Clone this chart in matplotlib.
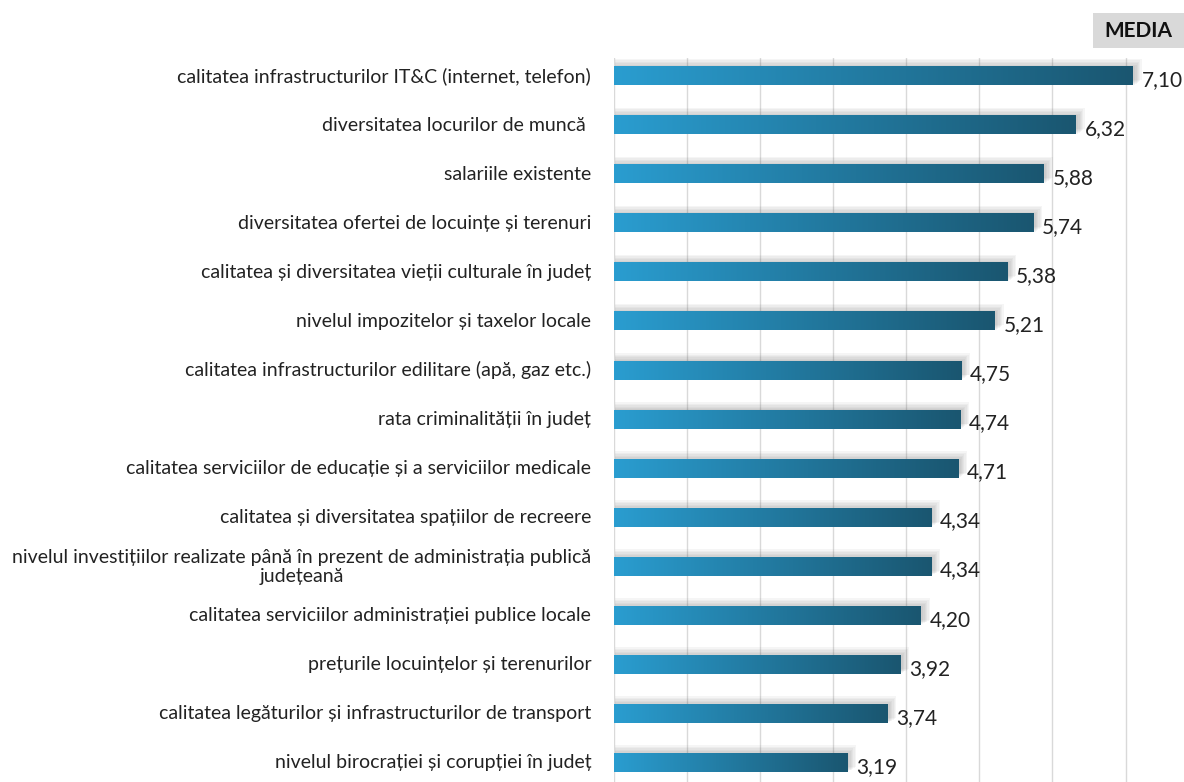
import numpy as np
import matplotlib.pyplot as plt
from matplotlib.colors import LinearSegmentedColormap
from matplotlib.patches import Rectangle

categories = [
    "calitatea infrastructurilor IT&C (internet, telefon)",
    "diversitatea locurilor de muncă ",
    "salariile existente",
    "diversitatea ofertei de locuințe și terenuri",
    "calitatea și diversitatea vieții culturale în județ",
    "nivelul impozitelor și taxelor locale",
    "calitatea infrastructurilor edilitare (apă, gaz etc.)",
    "rata criminalității în județ",
    "calitatea serviciilor de educație și a serviciilor medicale",
    "calitatea și diversitatea spațiilor de recreere",
    "nivelul investițiilor realizate până în prezent de administrația publică\njudețeană",
    "calitatea serviciilor administrației publice locale",
    "prețurile locuințelor și terenurilor",
    "calitatea legăturilor și infrastructurilor de transport",
    "nivelul birocrației și corupției în județ",
]
values = [7.10, 6.32, 5.88, 5.74, 5.38, 5.21, 4.75, 4.74, 4.71, 4.34, 4.34, 4.20, 3.92, 3.74, 3.19]
value_labels = [f"{v:.2f}".replace(".", ",") for v in values]

plt.rcParams['font.family'] = ['Lato', 'DejaVu Sans']

fig = plt.figure(figsize=(11.84, 7.82), dpi=100)
ax = fig.add_axes([614 / 1184, 0, 1 - 614 / 1184, 1 - 58 / 782])

bar_h = 0.37
cmap = LinearSegmentedColormap.from_list("bar", ["#2a9dd0", "#1a5670"])
grad = np.linspace(0, 1, 256).reshape(1, -1)

for i, v in enumerate(values):
    # soft shadow, mostly above and right of the bar
    for k in range(6):
        pad = 0.02 + k * 0.03
        ax.add_patch(Rectangle((0.02, i - bar_h / 2 - pad),
                               v + pad * 0.6, bar_h + pad * 0.4,
                               facecolor="#555555", alpha=0.055, lw=0, zorder=2))
    ax.imshow(grad, cmap=cmap, aspect="auto", zorder=3,
              extent=(0, v, i + bar_h / 2, i - bar_h / 2))
    ax.text(v + 0.12, i + 0.08, value_labels[i], va="center", ha="left",
            fontsize=15, color="#222222", zorder=4)

ax.set_xlim(0, 7.8)
ax.set_ylim(len(values) - 1 + 0.39, -0.37)
ax.set_xticks(range(0, 8))
ax.grid(axis="x", color="#d9d9d9", lw=1, zorder=0)
ax.set_axisbelow(True)
ax.tick_params(axis="x", length=0, labelbottom=False)
ax.set_yticks([])
for s in ax.spines.values():
    s.set_visible(False)

# category labels, right-aligned next to the axis, extra lines centred
label_tr = ax.get_yaxis_transform()
for i, cat in enumerate(categories):
    ax.text(-0.04, i, cat, transform=label_tr, ha="right", va="center",
            multialignment="center", fontsize=14, color="#222222",
            linespacing=1.15, clip_on=False)

fig.patches.append(Rectangle((1093 / 1184, 1 - 48 / 782), 91 / 1184, 35 / 782,
                             transform=fig.transFigure, facecolor="#d9d9d9",
                             edgecolor="none", zorder=1))
fig.text(1138 / 1184, 1 - 31 / 782, "MEDIA", ha="center", va="center",
         fontsize=15, fontweight="bold", color="#111111")

fig.savefig("out.png", dpi=100)
